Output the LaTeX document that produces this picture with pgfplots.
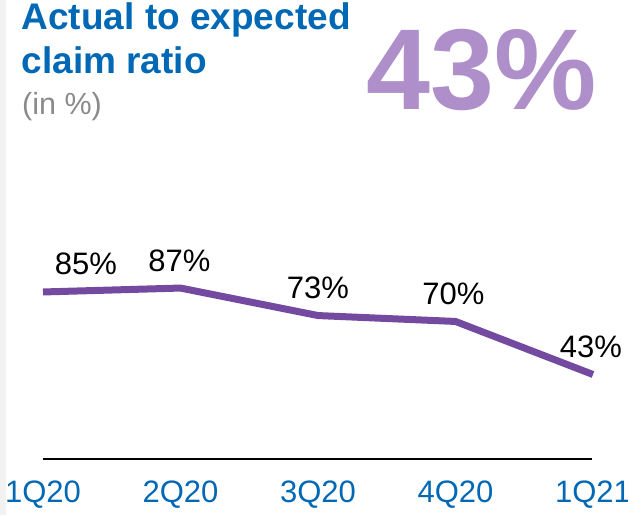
\documentclass[border=0pt]{standalone}
\usepackage{pgfplots}
\pgfplotsset{compat=1.18}
\usepackage{fontspec}
\setmainfont{Liberation Sans}
\definecolor{titleblue}{RGB}{0,104,180}
\definecolor{lineviolet}{RGB}{116,74,160}
\definecolor{bigviolet}{RGB}{175,143,202}
\definecolor{subgray}{RGB}{138,138,138}
\definecolor{stripgray}{RGB}{242,242,242}
\begin{document}
\begin{tikzpicture}[x=1pt,y=1pt]
\path[use as bounding box] (0,0) rectangle (628,515);
\fill[stripgray] (0,0) rectangle (6,515);
\node[anchor=base west, inner sep=0, text=titleblue, font=\fontsize{37}{37}\selectfont\bfseries] at (21.5,485.7) {Actual to expected};
\node[anchor=base west, inner sep=0, text=titleblue, font=\fontsize{37}{37}\selectfont\bfseries] at (21.5,441) {claim ratio};
\node[anchor=base west, inner sep=0, text=subgray, font=\fontsize{30.5}{30.5}\selectfont] at (22,400) {(in \%)};
\node[anchor=base, inner sep=0, text=bigviolet, font=\fontsize{115}{115}\selectfont\bfseries] at (482,405) {43\%};
\begin{axis}[
  at={(43pt,56pt)}, anchor=origin,
  scale only axis, width=550pt, height=196.5pt,
  xmin=0, xmax=4, ymin=0, ymax=100,
  axis x line=bottom, axis y line=none,
  x axis line style={-, black, line width=2pt, shorten <=0pt, shorten >=1pt},
  xtick={0,1,2,3,4},
  xticklabels={1Q20,2Q20,3Q20,4Q20,1Q21},
  major tick length=0pt,
  xticklabel style={text=titleblue, font=\fontsize{31}{31}\selectfont, anchor=base, inner sep=0pt, yshift=-43pt},
  clip=false,
]
\addplot[lineviolet, line width=7pt] coordinates {(0,85) (1,87) (2,73) (3,70) (4,43)};
\addplot[draw=none, mark=none, point meta=y,
  visualization depends on={value \thisrow{dx} \as \dx},
  nodes near coords={\pgfmathprintnumber[assume math mode=true]{\pgfplotspointmeta}\%},
  nodes near coords style={anchor=base, inner sep=0pt, yshift=17pt, xshift=\dx pt, text=black, font=\fontsize{31}{31}\selectfont}]
  table {
x y dx
0 85 43
1 87 -1
2 73 0
3 70 -2
4 43 -2
};
\end{axis}
\end{tikzpicture}
\end{document}
